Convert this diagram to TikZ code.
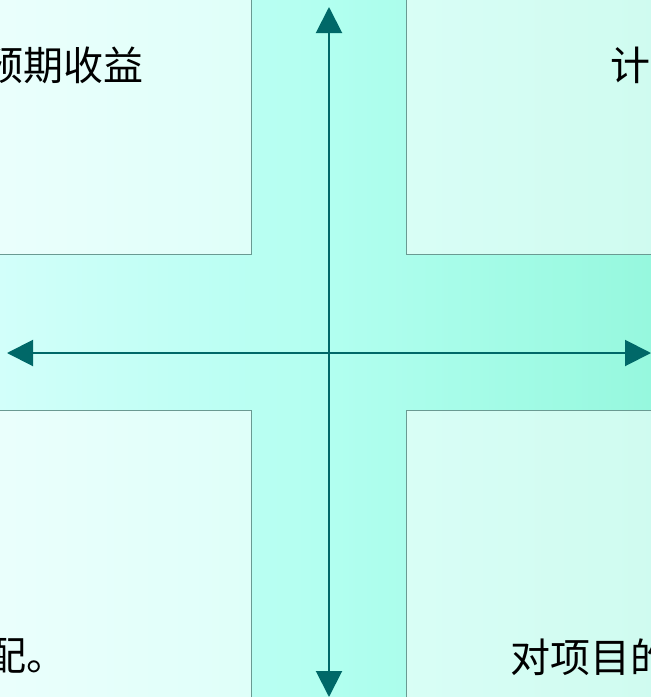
\documentclass[tikz,border=0pt]{standalone}
\usepackage{fontspec}
\setmainfont{Noto Sans CJK SC}
\usetikzlibrary{arrows.meta}
\definecolor{bgleft}{HTML}{D2FFFA}
\definecolor{bgmid}{HTML}{B2FFF0}
\definecolor{bgright}{HTML}{96F8DE}
\definecolor{boxline}{HTML}{6A9A92}
\definecolor{axis}{HTML}{006868}
\tikzset{
  panel/.style={draw=boxline, line width=0.8pt, fill=white, fill opacity=0.55},
  label/.style={inner sep=0pt, font=\fontsize{40pt}{48pt}\selectfont, text=black},
  axisline/.style={draw=axis, line width=2pt, {Triangle[length=26pt,width=26pt]}-{Triangle[length=26pt,width=26pt]}}
}
\begin{document}
\begin{tikzpicture}[x=1pt,y=-1pt]
\useasboundingbox (0,0) rectangle (651,697);
\shade[left color=bgleft, right color=bgright, middle color=bgmid] (0,0) rectangle (651,697);
% panels
\path[panel] (-10,-10) rectangle (251,254);
\path[panel] (406,-10) rectangle (662,254);
\path[panel] (-10,410) rectangle (251,710);
\path[panel] (406,410) rectangle (662,710);
% axes
\coordinate (top) at (329,7);
\coordinate (bottom) at (329,697);
\coordinate (left) at (7,353);
\coordinate (right) at (651,353);
\draw[axisline] (bottom) -- (top);
\draw[axisline] (left) -- (right);
% texts
\node[label, anchor=east] (tl) at (144,65) {预期收益};
\node[label, anchor=west] (tr) at (610,65) {计};
\node[label, anchor=east] (bl) at (67,656) {配。};
\node[label, anchor=west] (br) at (510,657) {对项目的};
\end{tikzpicture}
\end{document}
